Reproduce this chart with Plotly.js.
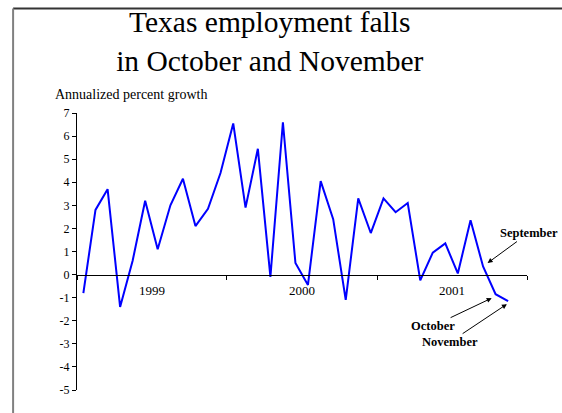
<!DOCTYPE html>
<html>
<head>
<meta charset="utf-8">
<script src="https://cdn.plot.ly/plotly-3.0.1.min.js"></script>
<style>html,body{margin:0;padding:0;background:#fff;}#chart{width:562px;height:413px;}</style>
</head>
<body>
<div id="chart"></div>
<script>
// Monthly periods, January 1999 to November 2001
const months = [
  '1999-01','1999-02','1999-03','1999-04','1999-05','1999-06','1999-07','1999-08','1999-09','1999-10','1999-11','1999-12',
  '2000-01','2000-02','2000-03','2000-04','2000-05','2000-06','2000-07','2000-08','2000-09','2000-10','2000-11','2000-12',
  '2001-01','2001-02','2001-03','2001-04','2001-05','2001-06','2001-07','2001-08','2001-09','2001-10','2001-11'
];
// Annualized percent growth of Texas employment
const growth = [
  -0.8, 2.8, 3.7, -1.4, 0.6, 3.2, 1.1, 3.0, 4.15, 2.1, 2.85, 4.4,
  6.55, 2.9, 5.45, -0.1, 6.6, 0.5, -0.45, 4.05, 2.4, -1.1, 3.3, 1.8,
  3.3, 2.7, 3.1, -0.25, 0.95, 1.35, 0.05, 2.35, 0.35, -0.85, -1.15
];
const yTickVals = [-5,-4,-3,-2,-1,0,1,2,3,4,5,6,7];
const yTickText = ['-5','-4','-3','-2','-1','0','1','2','3','4','5','6','7'];
const titleText = 'Texas employment falls<br>in October and November';
const yLabel = 'Annualized percent growth';
const notes = ['September', 'October', 'November'];

const serif = 'Liberation Serif, Times New Roman, serif';

const trace = {
  type: 'scatter',
  mode: 'lines',
  x: months,
  y: growth,
  xperiod: 'M1',
  xperiodalignment: 'middle',
  line: {color: '#0000FF', width: 2},
  hoverinfo: 'skip'
};

const layout = {
  width: 562,
  height: 413,
  margin: {l: 77, r: 35, t: 113, b: 23, pad: 0},
  paper_bgcolor: '#ffffff',
  plot_bgcolor: 'rgba(0,0,0,0)',
  showlegend: false,
  font: {family: serif, color: '#000', size: 12},
  title: {
    text: titleText,
    font: {family: serif, size: 29.5, color: '#000'},
    xref: 'container', x: 0.48, xanchor: 'center',
    yref: 'container', y: 0.922, yanchor: 'top'
  },
  xaxis: {
    type: 'date',
    range: ['1999-01-01', '2002-01-01'],
    tick0: '1999-01-01',
    dtick: 'M12',
    tickformat: '%Y',
    ticklabelmode: 'period',
    ticks: 'outside',
    ticklen: 4,
    tickcolor: '#000',
    showline: true,
    linecolor: '#000',
    linewidth: 1,
    showgrid: false,
    zeroline: false,
    anchor: 'free',
    position: 5 / 12,
    tickfont: {family: serif, size: 13, color: '#000'},
    fixedrange: true
  },
  yaxis: {
    range: [-5, 7],
    tickvals: yTickVals,
    ticktext: yTickText,
    ticks: 'outside',
    ticklen: 4,
    tickcolor: '#000',
    showline: true,
    linecolor: '#000',
    linewidth: 1,
    showgrid: false,
    zeroline: false,
    tickfont: {family: serif, size: 12, color: '#000'},
    fixedrange: true
  },
  shapes: [
    {type: 'line', xref: 'paper', yref: 'paper', x0: -0.142, x1: 2, y0: 1.377, y1: 1.377,
     line: {color: '#333333', width: 2}, layer: 'below'},
    {type: 'line', xref: 'paper', yref: 'paper', x0: -0.142, x1: -0.142, y0: -0.3, y1: 1.377,
     line: {color: '#808080', width: 2}, layer: 'below'}
  ],
  annotations: [
    {text: yLabel, xref: 'paper', yref: 'paper', x: -0.053, y: 1.068, xanchor: 'left', yanchor: 'middle',
     showarrow: false, font: {family: serif, size: 14, color: '#000'}},
    {text: '<b>' + notes[0] + '</b>', x: '2001-09-27', y: 0.5, xref: 'x', yref: 'y',
     showarrow: true, ax: 41, ay: -30, arrowhead: 2, arrowsize: 1, arrowwidth: 1, arrowcolor: '#000',
     font: {family: serif, size: 12.5, color: '#000'}},
    {text: '<b>' + notes[1] + '</b>', x: '2001-10-07', y: -1.02, xref: 'x', yref: 'y',
     showarrow: true, ax: -59, ay: 28, arrowhead: 2, arrowsize: 1, arrowwidth: 1, arrowcolor: '#000',
     font: {family: serif, size: 12.5, color: '#000'}},
    {text: '<b>' + notes[2] + '</b>', x: '2001-11-13', y: -1.28, xref: 'x', yref: 'y',
     showarrow: true, ax: -57, ay: 38, arrowhead: 2, arrowsize: 1, arrowwidth: 1, arrowcolor: '#000',
     font: {family: serif, size: 12.5, color: '#000'}}
  ]
};

Plotly.newPlot('chart', [trace], layout, {staticPlot: true, displayModeBar: false});
</script>
</body>
</html>
